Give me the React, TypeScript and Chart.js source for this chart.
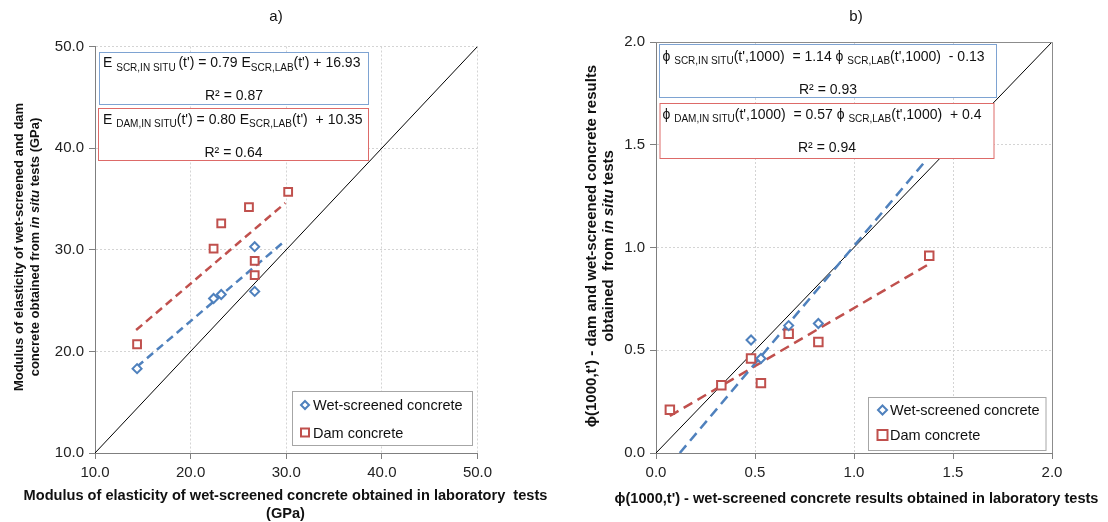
import React, { useEffect, useRef } from 'react';
import { Chart, registerables } from 'chart.js';
Chart.register(...registerables);

const FONT = '"Liberation Sans", Arial, Helvetica, sans-serif';
const BLUE = '#4F81BD';
const RED = '#C0504D';
const W = 554;
const H = 522;

// ---------- Chart a) data ----------
const aTicks = [10, 20, 30, 40, 50];
const aWetX = [14.4, 22.4, 23.2, 26.7, 26.7];
const aWetY = [18.3, 25.2, 25.6, 30.3, 25.9];
const aDamX = [14.4, 22.4, 23.2, 26.1, 30.2, 26.7, 26.7];
const aDamY = [20.7, 30.1, 32.6, 34.2, 35.7, 28.9, 27.5];
const aWetTrendX = [14.4, 29.9];
const aWetTrendY = [18.5, 30.9];
const aDamTrendX = [14.3, 29.9];
const aDamTrendY = [22.1, 34.6];
const aDiagX = [10, 50];
const aDiagY = [10, 50];

// ---------- Chart b) data ----------
const bTicks = [0, 0.5, 1.0, 1.5, 2.0];
const bWetX = [0.48, 0.53, 0.67, 0.82];
const bWetY = [0.55, 0.46, 0.62, 0.63];
const bDamX = [0.07, 0.33, 0.48, 0.53, 0.67, 0.82, 1.38];
const bDamY = [0.21, 0.33, 0.46, 0.34, 0.58, 0.54, 0.96];
const bWetTrendX = [0.12, 1.36];
const bWetTrendY = [0.0, 1.42];
const bDamTrendX = [0.07, 1.38];
const bDamTrendY = [0.18, 0.92];
const bDiagX = [0, 2];
const bDiagY = [0, 2];

const legendLabels = ['Wet-screened concrete', 'Dam concrete'];

type Seg = { t: string; sub?: boolean; it?: boolean };

const zip = (xs: number[], ys: number[]) => xs.map((x, i) => ({ x, y: ys[i] }));

function segFont(s: Seg, size: number, bold: boolean) {
  const sz = s.sub ? Math.round(size * 0.7) : size;
  return `${s.it ? 'italic ' : ''}${bold ? 'bold ' : ''}${sz}px ${FONT}`;
}
function richWidth(ctx: CanvasRenderingContext2D, segs: Seg[], size: number, bold: boolean) {
  let w = 0;
  for (const s of segs) {
    ctx.font = segFont(s, size, bold);
    w += ctx.measureText(s.t).width;
  }
  return w;
}
function drawRich(
  ctx: CanvasRenderingContext2D,
  segs: Seg[],
  x: number,
  y: number,
  size: number,
  bold: boolean,
  align: 'left' | 'center',
  color = '#111'
) {
  const w = richWidth(ctx, segs, size, bold);
  let cx = align === 'center' ? x - w / 2 : x;
  ctx.save();
  ctx.fillStyle = color;
  ctx.textAlign = 'left';
  ctx.textBaseline = 'alphabetic';
  for (const s of segs) {
    ctx.font = segFont(s, size, bold);
    ctx.fillText(s.t, cx, y + (s.sub ? size * 0.25 : 0));
    cx += ctx.measureText(s.t).width;
  }
  ctx.restore();
}

function eqBox(
  ctx: CanvasRenderingContext2D,
  rect: [number, number, number, number],
  color: string,
  line: Seg[],
  r2: string,
  textX: number,
  base1: number,
  base2: number
) {
  const [x, y, w, h] = rect;
  ctx.save();
  ctx.fillStyle = '#fff';
  ctx.fillRect(x, y, w, h);
  ctx.strokeStyle = color;
  ctx.lineWidth = 1;
  ctx.strokeRect(x, y, w, h);
  ctx.restore();
  drawRich(ctx, line, textX, base1, 14, false, 'left');
  drawRich(ctx, [{ t: r2 }], x + w / 2, base2, 14, false, 'center');
}

function drawLegend(
  ctx: CanvasRenderingContext2D,
  rect: [number, number, number, number],
  mx: number,
  y1: number,
  y2: number,
  tx: number,
  dr: number,
  sq: number
) {
  const [x, y, w, h] = rect;
  ctx.save();
  ctx.fillStyle = '#fff';
  ctx.fillRect(x, y, w, h);
  ctx.strokeStyle = '#a6a6a6';
  ctx.lineWidth = 1;
  ctx.strokeRect(x, y, w, h);
  // diamond
  ctx.lineWidth = 2;
  ctx.strokeStyle = BLUE;
  ctx.beginPath();
  ctx.moveTo(mx, y1 - dr);
  ctx.lineTo(mx + dr, y1);
  ctx.lineTo(mx, y1 + dr);
  ctx.lineTo(mx - dr, y1);
  ctx.closePath();
  ctx.stroke();
  // square
  ctx.strokeStyle = RED;
  ctx.strokeRect(mx - sq, y2 - sq, sq * 2, sq * 2);
  ctx.fillStyle = '#111';
  ctx.font = `14.5px ${FONT}`;
  ctx.textAlign = 'left';
  ctx.textBaseline = 'middle';
  ctx.fillText(legendLabels[0], tx, y1 + 1);
  ctx.fillText(legendLabels[1], tx, y2 + 1);
  ctx.restore();
}

function drawYTitle(
  ctx: CanvasRenderingContext2D,
  l1: Seg[],
  l2: Seg[],
  x1: number,
  x2: number,
  cy: number,
  size: number
) {
  const off = size * 0.36;
  ctx.save();
  ctx.translate(x1, cy);
  ctx.rotate(-Math.PI / 2);
  drawRich(ctx, l1, 0, off, size, true, 'center');
  ctx.restore();
  ctx.save();
  ctx.translate(x2, cy);
  ctx.rotate(-Math.PI / 2);
  drawRich(ctx, l2, 0, off, size, true, 'center');
  ctx.restore();
}

type Spec = {
  min: number;
  max: number;
  ticks: number[];
  area: { left: number; right: number; top: number; bottom: number };
  wet: { x: number; y: number }[];
  dam: { x: number; y: number }[];
  wetTrend: { x: number; y: number }[];
  damTrend: { x: number; y: number }[];
  diag: { x: number; y: number }[];
  dash: number[];
  diamondR: number;
  squareR: number;
  frame: boolean;
  draw: (ctx: CanvasRenderingContext2D) => void;
};

function buildConfig(spec: Spec): any {
  const axisCommon = (isX: boolean) => ({
    type: 'linear',
    min: spec.min,
    max: spec.max,
    afterBuildTicks: (scale: any) => {
      scale.ticks = spec.ticks.map((v) => ({ value: v }));
    },
    afterFit: (scale: any) => {
      if (isX) scale.height = H - spec.area.bottom;
      else scale.width = spec.area.left;
    },
    ticks: {
      callback: (v: any) => Number(v).toFixed(1),
      font: { family: FONT, size: 15 },
      color: '#222',
      padding: 5,
      maxRotation: 0,
      autoSkip: false,
    },
    grid: {
      color: '#d4d4d4',
      lineWidth: 1,
      tickLength: 6,
      tickColor: '#7f7f7f',
      tickWidth: 1,
    },
    border: { display: true, color: '#7f7f7f', width: 1, dash: [2, 2] },
  });

  const decor = {
    id: 'decor',
    afterDraw(chart: any) {
      const ctx = chart.ctx as CanvasRenderingContext2D;
      const a = chart.chartArea;
      if (spec.frame) {
        ctx.save();
        ctx.strokeStyle = '#8c8c8c';
        ctx.lineWidth = 1;
        ctx.beginPath();
        ctx.moveTo(a.left, a.top + 0.5);
        ctx.lineTo(a.right + 0.5, a.top + 0.5);
        ctx.lineTo(a.right + 0.5, a.bottom);
        ctx.stroke();
        ctx.restore();
      }
      spec.draw(ctx);
    },
  };

  return {
    type: 'scatter',
    data: {
      datasets: [
        {
          label: legendLabels[0],
          data: spec.wet,
          pointStyle: 'rectRot',
          pointRadius: spec.diamondR,
          borderColor: BLUE,
          backgroundColor: '#fff',
          pointBorderWidth: 2,
          showLine: false,
        },
        {
          label: legendLabels[1],
          data: spec.dam,
          pointStyle: 'rect',
          pointRadius: spec.squareR,
          borderColor: RED,
          backgroundColor: '#fff',
          pointBorderWidth: 2,
          showLine: false,
        },
        {
          label: 'wet trend',
          data: spec.wetTrend,
          showLine: true,
          pointRadius: 0,
          borderColor: BLUE,
          borderWidth: 2.5,
          borderDash: spec.dash,
          fill: false,
        },
        {
          label: 'dam trend',
          data: spec.damTrend,
          showLine: true,
          pointRadius: 0,
          borderColor: RED,
          borderWidth: 2.5,
          borderDash: spec.dash,
          fill: false,
        },
        {
          label: 'line of equality',
          data: spec.diag,
          showLine: true,
          pointRadius: 0,
          borderColor: '#000',
          borderWidth: 1,
          fill: false,
        },
      ],
    },
    options: {
      responsive: false,
      animation: false,
      devicePixelRatio: 1,
      events: [],
      layout: {
        padding: { left: 0, top: spec.area.top, right: W - spec.area.right, bottom: 0 },
      },
      plugins: { legend: { display: false }, tooltip: { enabled: false }, title: { display: false } },
      scales: { x: axisCommon(true), y: axisCommon(false) },
    },
    plugins: [decor],
  };
}

const specA: Spec = {
  min: 10,
  max: 50,
  ticks: aTicks,
  area: { left: 95, right: 477.5, top: 46.5, bottom: 453 },
  wet: zip(aWetX, aWetY),
  dam: zip(aDamX, aDamY),
  wetTrend: zip(aWetTrendX, aWetTrendY),
  damTrend: zip(aDamTrendX, aDamTrendY),
  diag: zip(aDiagX, aDiagY),
  dash: [8, 5],
  diamondR: 4.5,
  squareR: 5.5,
  frame: false,
  draw: (ctx) => {
    eqBox(
      ctx,
      [99.5, 52.5, 269, 52],
      '#7ea3d2',
      [
        { t: 'E ' },
        { t: 'SCR,IN SITU ', sub: true },
        { t: "(t') = 0.79 E" },
        { t: 'SCR,LAB', sub: true },
        { t: "(t') + 16.93" },
      ],
      'R² = 0.87',
      103,
      67,
      100
    );
    eqBox(
      ctx,
      [98.5, 108.5, 270, 52],
      '#dd6a68',
      [
        { t: 'E ' },
        { t: 'DAM,IN SITU', sub: true },
        { t: "(t') = 0.80 E" },
        { t: 'SCR,LAB', sub: true },
        { t: "(t')  + 10.35" },
      ],
      'R² = 0.64',
      103,
      123.5,
      156.5
    );
    drawLegend(ctx, [292.5, 391.5, 180, 54], 305, 405, 432.5, 313, 4, 4);
    ctx.save();
    ctx.fillStyle = '#111';
    ctx.font = `15px ${FONT}`;
    ctx.textAlign = 'center';
    ctx.textBaseline = 'middle';
    ctx.fillText('a)', 276, 17);
    ctx.restore();
    drawRich(ctx, [{ t: 'Modulus of elasticity of wet-screened concrete obtained in laboratory  tests' }], 285.5, 500, 14.6, true, 'center');
    drawRich(ctx, [{ t: '(GPa)' }], 285.5, 518, 14.6, true, 'center');
    drawYTitle(
      ctx,
      [{ t: 'Modulus of elasticity of wet-screened and dam' }],
      [{ t: 'concrete obtained from ' }, { t: 'in situ', it: true }, { t: ' tests (GPa)' }],
      18,
      34,
      247,
      13
    );
  },
};

const specB: Spec = {
  min: 0,
  max: 2,
  ticks: bTicks,
  area: { left: 102, right: 498, top: 42, bottom: 453 },
  wet: zip(bWetX, bWetY),
  dam: zip(bDamX, bDamY),
  wetTrend: zip(bWetTrendX, bWetTrendY),
  damTrend: zip(bDamTrendX, bDamTrendY),
  diag: zip(bDiagX, bDiagY),
  dash: [10, 6],
  diamondR: 4.5,
  squareR: 6,
  frame: true,
  draw: (ctx) => {
    eqBox(
      ctx,
      [105.5, 44.5, 337, 53],
      '#7ea3d2',
      [
        { t: 'ϕ ' },
        { t: 'SCR,IN SITU', sub: true },
        { t: "(t',1000)  = 1.14 ϕ " },
        { t: 'SCR,LAB', sub: true },
        { t: "(t',1000)  - 0.13" },
      ],
      'R² = 0.93',
      108.5,
      60.5,
      94
    );
    eqBox(
      ctx,
      [106, 103.5, 334, 55],
      '#dd6a68',
      [
        { t: 'ϕ ' },
        { t: 'DAM,IN SITU', sub: true },
        { t: "(t',1000)  = 0.57 ϕ " },
        { t: 'SCR,LAB', sub: true },
        { t: "(t',1000)  + 0.4" },
      ],
      'R² = 0.94',
      108.5,
      118.5,
      151.5
    );
    drawLegend(ctx, [314.5, 397.5, 177.5, 53], 328.5, 410, 435, 336, 4.5, 5);
    ctx.save();
    ctx.fillStyle = '#111';
    ctx.font = `15px ${FONT}`;
    ctx.textAlign = 'center';
    ctx.textBaseline = 'middle';
    ctx.fillText('b)', 302, 17);
    ctx.restore();
    drawRich(ctx, [{ t: "ϕ(1000,t') - wet-screened concrete results obtained in laboratory tests" }], 302.5, 503, 14.6, true, 'center');
    drawYTitle(
      ctx,
      [{ t: "ϕ(1000,t') - dam and wet-screened concrete results" }],
      [{ t: 'obtained  from ' }, { t: 'in situ', it: true }, { t: ' tests' }],
      37,
      54,
      246,
      15
    );
  },
};

function ChartCanvas({ spec, left }: { spec: Spec; left: number }) {
  const ref = useRef<HTMLCanvasElement>(null);
  useEffect(() => {
    const chart = new Chart(ref.current as HTMLCanvasElement, buildConfig(spec));
    return () => chart.destroy();
  }, [spec]);
  return (
    <canvas
      ref={ref}
      width={W}
      height={H}
      style={{ position: 'absolute', left, top: 0, width: W, height: H, display: 'block' }}
    />
  );
}

export default function App() {
  return (
    <div style={{ position: 'fixed', left: 0, top: 0, width: 1108, height: 522, background: '#fff' }}>
      <ChartCanvas spec={specA} left={0} />
      <ChartCanvas spec={specB} left={554} />
    </div>
  );
}
